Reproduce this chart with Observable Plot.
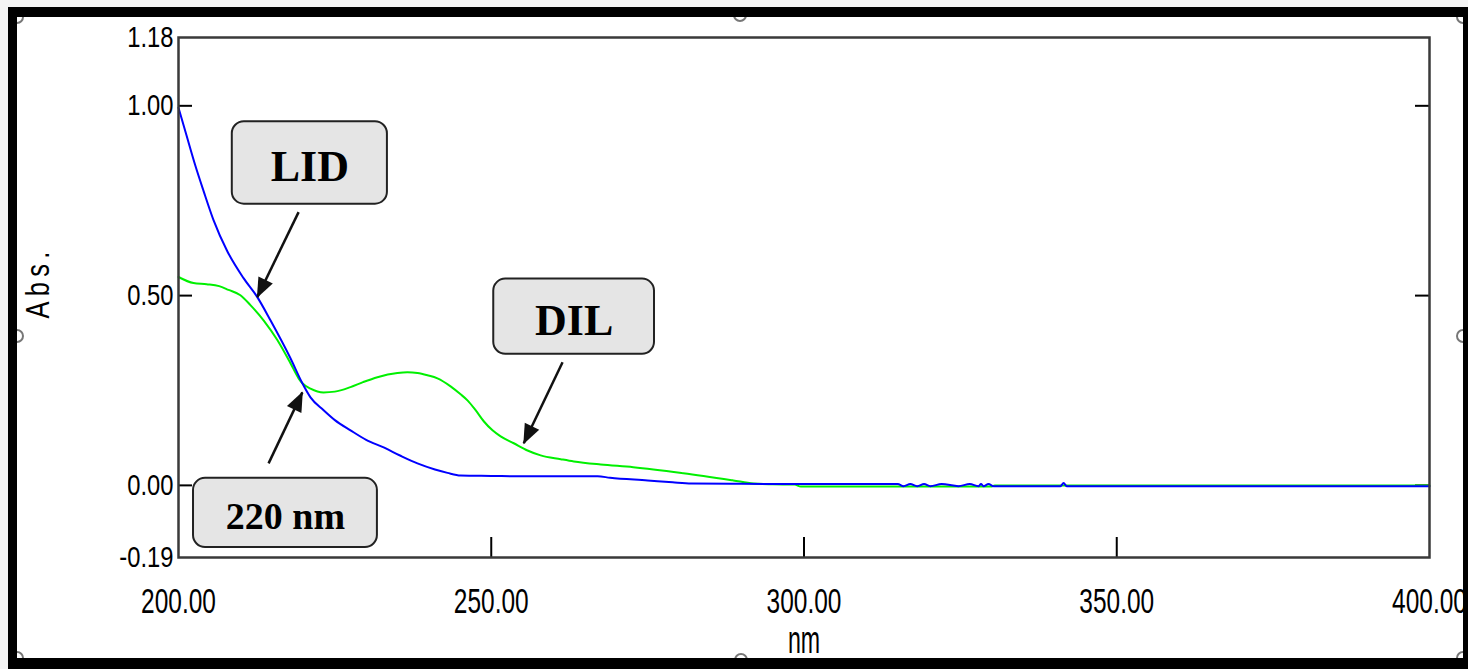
<!DOCTYPE html>
<html><head><meta charset="utf-8">
<script src="https://cdn.jsdelivr.net/npm/d3@7"></script>
<script src="https://cdn.jsdelivr.net/npm/@observablehq/plot@0.6"></script>
<style>
html,body{margin:0;padding:0;background:#f4f4f4;overflow:hidden;width:1468px;height:669px;}
#chart{position:absolute;left:0;top:0;z-index:1;}
#frame{position:absolute;left:8px;top:7px;width:1446px;height:641px;border-style:solid;border-color:#000;border-width:10px 10px 12px 9px;box-shadow:0 0 0 14px #f4f4f4;z-index:3;pointer-events:none;}
.h{position:absolute;width:10px;height:10px;border:2px solid #777;border-radius:50%;background:#fff;z-index:2;}
</style></head><body>
<div id="chart"></div>
<div class="h" style="left:733px;top:8px"></div>
<div class="h" style="left:734px;top:653px"></div>
<div class="h" style="left:10px;top:329px"></div>
<div class="h" style="left:1456px;top:329px"></div>
<div class="h" style="left:10px;top:10px"></div>
<div class="h" style="left:1456px;top:10px"></div>
<div class="h" style="left:10px;top:651px"></div>
<div class="h" style="left:1456px;top:651px"></div>
<div id="frame"></div>
<script>
// LID (blue) spectrum
const lidNm  = [200, 201.3, 202.7, 204, 205.6, 207.8, 210.4, 212.6, 214.7, 217.9, 219.8, 221.1, 223.2, 225, 227.5, 230, 232.8, 235.5, 238.2, 241, 243, 245.1, 250, 255, 260, 267, 269, 275, 279, 282, 290, 300, 310, 315, 315.9, 317, 318.1, 319.2, 320.2, 322, 324.7, 326.5, 327.9, 328.3, 328.7, 329.5, 330.3, 335, 341, 341.5, 342, 350, 375, 400];
const lidAbs = [0.995, 0.921, 0.842, 0.776, 0.699, 0.617, 0.546, 0.496, 0.435, 0.335, 0.269, 0.232, 0.198, 0.172, 0.145, 0.12, 0.10, 0.078, 0.058, 0.042, 0.033, 0.026, 0.025, 0.024, 0.024, 0.024, 0.02, 0.013, 0.008, 0.005, 0.004, 0.0035, 0.0035, 0.0035, -0.002, 0.0035, -0.002, 0.0035, -0.002, 0.0035, -0.002, 0.0035, -0.002, 0.0035, -0.002, 0.0035, -0.002, -0.002, -0.002, 0.006, -0.002, -0.002, -0.002, -0.002];
// DIL (green) spectrum
const dilNm  = [200, 202.4, 204.5, 206.5, 208, 209.9, 211.5, 213.6, 215.8, 217.9, 219.2, 219.8, 221.1, 223.2, 225, 227.5, 229.5, 231.8, 235, 236.6, 238.2, 239.8, 241.4, 243.5, 245.1, 246.2, 247.5, 248.8, 250.2, 251.5, 253.6, 255.8, 257.9, 261.1, 263.2, 267.5, 272.7, 280.7, 288.7, 291.9, 295, 298.5, 299.5, 310, 320, 330, 330.5, 340, 400];
const dilAbs = [0.549, 0.533, 0.53, 0.525, 0.515, 0.501, 0.475, 0.435, 0.383, 0.322, 0.282, 0.269, 0.255, 0.245, 0.247, 0.259, 0.272, 0.285, 0.296, 0.298, 0.296, 0.29, 0.282, 0.261, 0.240, 0.224, 0.198, 0.169, 0.145, 0.129, 0.111, 0.092, 0.079, 0.069, 0.063, 0.055, 0.048, 0.032, 0.013, 0.005, 0.003, 0.002, -0.003, -0.003, -0.003, -0.003, 0.0, 0.0, 0.0];

const yTickLabels = [1.18, 1.00, 0.50, 0.00, -0.19];
const yTickMarks = [1.00, 0.50, 0.00];
const xTickLabels = [200, 250, 300, 350, 400];
const xTickMarks = [250, 300, 350];
const xTitle = "nm";
const yTitle = "Abs.";

// annotation callouts
const boxText = ["LID", "DIL", "220 nm"];
const boxX1 = [208.6, 250.4, 202.4];
const boxX2 = [233.4, 276.1, 231.8];
const boxY1 = [0.958, 0.5435, 0.0185];
const boxY2 = [0.741, 0.3456, -0.1636];
const arrowX1 = [219.2, 261.4, 214.4];
const arrowY1 = [0.720, 0.3245, 0.058];
const arrowX2 = [212.6, 255.2, 219.8];
const arrowY2 = [0.496, 0.1108, 0.245];

const lid = lidNm.map((x, i) => ({x, y: lidAbs[i]}));
const dil = dilNm.map((x, i) => ({x, y: dilAbs[i]}));
const boxes = boxText.map((t, i) => ({text: t, x1: boxX1[i], x2: boxX2[i], y1: boxY1[i], y2: boxY2[i]}));
const arrows = arrowX1.map((x, i) => ({x1: x, y1: arrowY1[i], x2: arrowX2[i], y2: arrowY2[i]}));

const sans = "'Liberation Sans', Arial, sans-serif";
const serif = "'Liberation Serif', 'Times New Roman', serif";

const plot = Plot.plot({
  width: 1468, height: 669,
  marginLeft: 178, marginRight: 39, marginTop: 37, marginBottom: 112,
  x: {domain: [200, 400]},
  y: {domain: [-0.19, 1.18]},
  style: {background: "white", fontFamily: sans, color: "#000"},
  marks: [
    Plot.axisY(yTickLabels, {tickSize: 0, tickPadding: 5, tickFormat: d => d.toFixed(2), label: null, fontSize: 29}),
    Plot.axisY(yTickMarks, {anchor: "left", tickSize: -14, tickFormat: () => "", label: null, strokeWidth: 2}),
    Plot.axisY(yTickMarks, {anchor: "right", tickSize: -15, tickFormat: () => "", label: null, strokeWidth: 2}),
    Plot.axisX(xTickLabels, {tickSize: 0, tickPadding: 30, tickFormat: d => d.toFixed(2), label: null, fontSize: 35.5}),
    Plot.axisX(xTickMarks, {tickSize: -20, tickFormat: () => "", label: null, strokeWidth: 2}),
    Plot.text([xTitle], {frameAnchor: "bottom", textAnchor: "middle", lineAnchor: "middle", dy: 83, fontSize: 38}),
    Plot.text([yTitle], {frameAnchor: "left", textAnchor: "middle", lineAnchor: "middle", dx: -140.5, dy: -15, rotate: -90, fontSize: 34}),
    Plot.line(dil, {x: "x", y: "y", stroke: "#00f000", strokeWidth: 2, curve: "monotone-x"}),
    Plot.line(lid, {x: "x", y: "y", stroke: "#0000ff", strokeWidth: 2, curve: "monotone-x"}),
    Plot.frame({stroke: "#3a3a3a", strokeWidth: 2.5}),
    Plot.link(arrows, {x1: "x1", y1: "y1", x2: "x2", y2: "y2", stroke: "#111", strokeWidth: 2.5, markerEnd: "arrow"}),
    Plot.rect(boxes, {x1: "x1", x2: "x2", y1: "y1", y2: "y2", rx: 12, fill: "#e5e5e5", stroke: "#222", strokeWidth: 2}),
    Plot.text(boxes, {x: d => (d.x1 + d.x2) / 2, y: d => (d.y1 + d.y2) / 2, text: "text", dy: 4,
      fontFamily: serif, fontWeight: "bold", fontSize: d => d.text.length > 3 ? 38 : 44, fill: "#000"})
  ]
});

const svg = d3.select(plot);
function squeezeNodes(nodes, sx) {
  nodes.each(function() {
    const t = this.getAttribute("transform") || "";
    this.setAttribute("transform", t + ` scale(${sx},1)`);
  });
}
const byText = s => svg.selectAll("text").filter(function() { return this.textContent === s; });
svg.selectAll('g[aria-label="y-axis tick label"]').attr("font-size", 29);
svg.selectAll('g[aria-label="x-axis tick label"]').attr("font-size", 35.5);
squeezeNodes(svg.selectAll('g[aria-label="y-axis tick label"] text'), 0.82);
squeezeNodes(svg.selectAll('g[aria-label="x-axis tick label"] text'), 0.69);
squeezeNodes(byText(xTitle), 0.61);
const yt = byText(yTitle);
squeezeNodes(yt, 0.75);
yt.style("letter-spacing", "7px");

svg.selectAll("marker").each(function() {
  const m = d3.select(this);
  m.attr("viewBox", "-20 -10 22 20").attr("markerUnits", "userSpaceOnUse")
   .attr("markerWidth", 22).attr("markerHeight", 20).attr("refX", 0).attr("refY", 0).attr("orient", "auto");
  m.selectAll("*").remove();
  m.append("path").attr("d", "M-19,-8L1,0L-19,8Z").attr("fill", "#111").attr("stroke", "none");
});

document.getElementById("chart").appendChild(plot);
</script>
</body></html>
